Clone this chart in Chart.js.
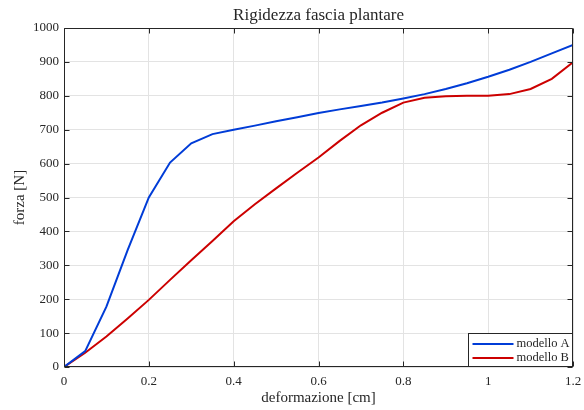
<!DOCTYPE html>
<html><head><meta charset="utf-8">
<script src="https://cdn.jsdelivr.net/npm/chart.js@4"></script>
<style>html,body{margin:0;padding:0;background:#fff}#wrap{width:584px;height:410px}</style>
</head><body><div id="wrap"><canvas id="c" width="584" height="410"></canvas></div>
<script>
const deformazione = [0,0.05,0.1,0.15,0.2,0.25,0.3,0.35,0.4,0.45,0.5,0.55,0.6,0.65,0.7,0.75,0.8,0.85,0.9,0.95,1,1.05,1.1,1.15,1.2];
const modelloA = [0,47,178,345,500,603,660,687,700,712,725,737,749,760,770,780,792,805,820,837,856,877,900,925,950];
const modelloB = [0,42,90,143,198,257,315,372,430,480,527,573,618,667,713,750,780,794,799,800,800,805,820,850,899];
const xTicks = [0,0.2,0.4,0.6,0.8,1,1.2];
const xTickLabels = ['0','0.2','0.4','0.6','0.8','1','1.2'];
const yTicks = [0,100,200,300,400,500,600,700,800,900,1000];
const yTickLabels = ['0','100','200','300','400','500','600','700','800','900','1000'];
const seriesNames = ['modello A','modello B'];
const seriesColors = ['rgb(0,60,215)','rgb(204,0,0)'];
const chartTitle = 'Rigidezza fascia plantare';

const FONT = '"Liberation Serif", "Times New Roman", serif';
const AXIS = '#262626';

const framePlugin = {
  id: 'frame',
  afterDraw(chart) {
    const ctx = chart.ctx, a = chart.chartArea;
    const xs = chart.scales.x, ys = chart.scales.y;
    ctx.save();
    // title centred over the plot area
    ctx.fillStyle = AXIS;
    ctx.font = '17px ' + FONT;
    ctx.textAlign = 'center';
    ctx.textBaseline = 'alphabetic';
    ctx.fillText(chartTitle, (a.left + a.right) / 2, 20);
    ctx.strokeStyle = AXIS; ctx.lineWidth = 1;
    const L = Math.round(a.left) + 0.5, R = Math.round(a.right) - 0.5;
    const T = Math.round(a.top) + 0.5, B = Math.round(a.bottom) - 0.5;
    ctx.beginPath();
    ctx.rect(L, T, R - L, B - T);
    ctx.stroke();
    const tl = 5;
    ctx.beginPath();
    xTicks.forEach(v => {
      const px = Math.round(xs.getPixelForValue(v)) + 0.5;
      ctx.moveTo(px, B); ctx.lineTo(px, B - tl);
      ctx.moveTo(px, T); ctx.lineTo(px, T + tl);
    });
    yTicks.forEach(v => {
      const py = Math.round(ys.getPixelForValue(v)) + 0.5;
      ctx.moveTo(L, py); ctx.lineTo(L + tl, py);
      ctx.moveTo(R, py); ctx.lineTo(R - tl, py);
    });
    ctx.stroke();
    // legend
    const bw = 104, bh = 33;
    const bx = R - bw, by = B - bh;
    ctx.fillStyle = '#fff';
    ctx.fillRect(bx, by, bw, bh);
    ctx.strokeRect(bx, by, bw, bh);
    ctx.font = '12.5px ' + FONT;
    ctx.textBaseline = 'middle';
    ctx.textAlign = 'left';
    chart.data.datasets.forEach((ds, i) => {
      const y = by + 10.5 + i * 14;
      ctx.strokeStyle = ds.borderColor; ctx.lineWidth = 2;
      ctx.beginPath(); ctx.moveTo(bx + 4, y); ctx.lineTo(bx + 45, y); ctx.stroke();
      ctx.fillStyle = AXIS;
      ctx.fillText(ds.label, bx + 48, y);
    });
    ctx.restore();
  }
};

new Chart(document.getElementById('c'), {
  type: 'line',
  data: {
    datasets: [
      { label: seriesNames[0], data: deformazione.map((x, i) => ({x, y: modelloA[i]})), borderColor: seriesColors[0], borderWidth: 2, pointRadius: 0, tension: 0, fill: false },
      { label: seriesNames[1], data: deformazione.map((x, i) => ({x, y: modelloB[i]})), borderColor: seriesColors[1], borderWidth: 2, pointRadius: 0, tension: 0, fill: false }
    ]
  },
  options: {
    responsive: false,
    animation: false,
    devicePixelRatio: 1,
    layout: { padding: { left: 0, right: 11, top: 28, bottom: 0 } },
    plugins: {
      legend: { display: false },
      tooltip: { enabled: false },
      title: { display: false }
    },
    scales: {
      x: {
        type: 'linear', min: 0, max: 1.2,
        afterBuildTicks: s => { s.ticks = xTicks.map(v => ({value: v})); },
        afterFit: s => { s.height = 43; s.paddingLeft = 0; s.paddingRight = 0; },
        ticks: { callback: (v, i) => xTickLabels[i], color: AXIS, font: { family: FONT, size: 13 }, padding: 7, autoSkip: false, maxRotation: 0 },
        grid: { color: '#e3e3e3', drawTicks: false },
        border: { display: false },
        title: { display: true, text: 'deformazione [cm]', color: AXIS, font: { family: FONT, size: 15 }, padding: { top: 0, bottom: 3 } }
      },
      y: {
        type: 'linear', min: 0, max: 1000,
        afterBuildTicks: s => { s.ticks = yTicks.map(v => ({value: v})); },
        afterFit: s => { s.width = 64; s.paddingTop = 0; s.paddingBottom = 0; },
        ticks: { callback: (v, i) => yTickLabels[i], color: AXIS, font: { family: FONT, size: 13 }, padding: 5, autoSkip: false },
        grid: { color: '#e3e3e3', drawTicks: false },
        border: { display: false },
        title: { display: true, text: 'forza [N]', color: AXIS, font: { family: FONT, size: 15 }, padding: { top: 11, bottom: 0 } }
      }
    }
  },
  plugins: [framePlugin]
});
</script></body></html>
